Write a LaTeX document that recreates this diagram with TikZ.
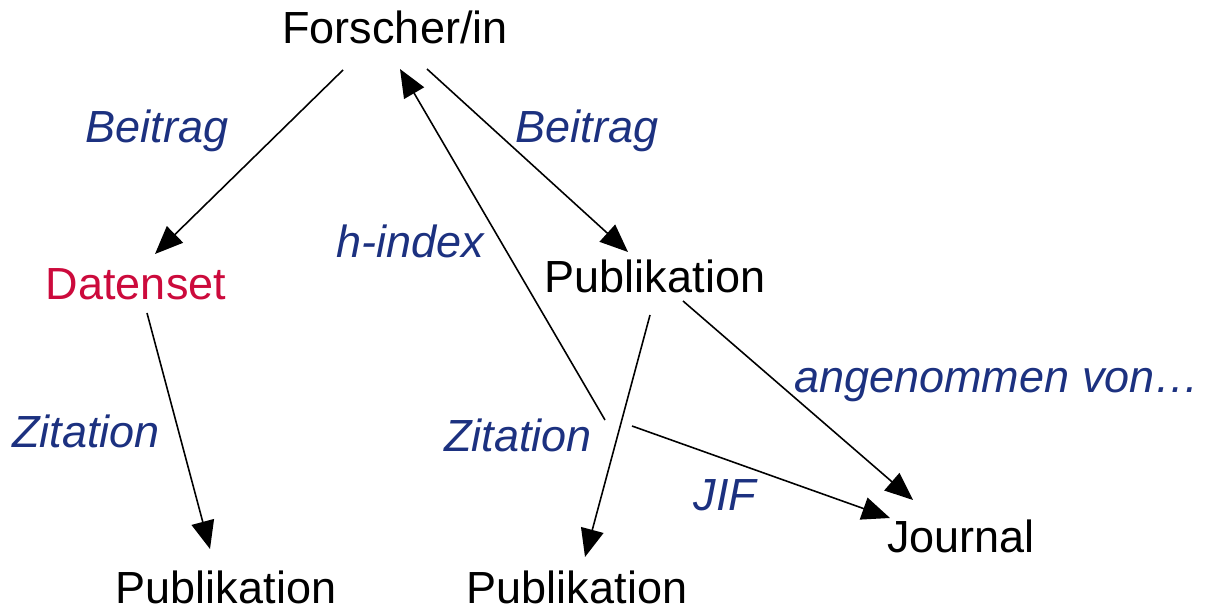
\documentclass[tikz,border=0pt]{standalone}
\usepackage{fontspec}
\setmainfont{Liberation Sans}
\usetikzlibrary{arrows.meta}

\definecolor{rolleblau}{HTML}{1C3180}
\definecolor{datenrot}{HTML}{CC0A3C}

\begin{document}
\begin{tikzpicture}[x=0.01cm, y=-0.01cm,
		term/.style={inner sep=0pt, anchor=base, font=\fontsize{12.8}{15}\selectfont},
		rolle/.style={term, text=rolleblau, font=\fontsize{12.8}{15}\selectfont\itshape},
		arr/.style={line width=0.45pt, -{Triangle[length=0.28cm, width=0.23cm]}}]
		\useasboundingbox (0,0) rectangle (1216,610);

		\node [term] (forscher) at (395,44) {Forscher/in};
		\node [term, text=datenrot] (daten) at (136,300) {Datenset};
		\node [term] (pubmid) at (655,293) {Publikation};
		\node [term] (publinks) at (226,603) {Publikation};
		\node [term] (pubunten) at (577,603) {Publikation};
		\node [term] (journal) at (961,552) {Journal};

		\node [rolle] (beitraga) at (157,143) {Beitrag};
		\node [rolle] (beitragb) at (587,143) {Beitrag};
		\node [rolle] (hindex) at (410,258) {h-index};
		\node [rolle] (zitationa) at (86,448) {Zitation};
		\node [rolle] (zitationb) at (518,452) {Zitation};
		\node [rolle] (angenommen) at (997,393) {angenommen von…};
		\node [rolle] (jif) at (725,510) {JIF};

		\coordinate (hfuss) at (605,420);
		\coordinate (jiffuss) at (632,426);

		\draw [arr] ([shift={(-52,26)}]forscher.base) -- ([shift={(19,-46)}]daten.base);
		\draw [arr] ([shift={(32,25)}]forscher.base) -- ([shift={(-27,-41)}]pubmid.base);
		\draw [arr] (hfuss) -- ([shift={(5,25)}]forscher.base);
		\draw [arr] ([shift={(11,13)}]daten.base) -- ([shift={(-16,-54)}]publinks.base);
		\draw [arr] ([shift={(-5,22)}]pubmid.base) -- ([shift={(8,-46)}]pubunten.base);
		\draw [arr] ([shift={(28,8)}]pubmid.base) -- ([shift={(-48,-52)}]journal.base);
		\draw [arr] (jiffuss) -- ([shift={(-71,-34)}]journal.base);
	\end{tikzpicture}
\end{document}
